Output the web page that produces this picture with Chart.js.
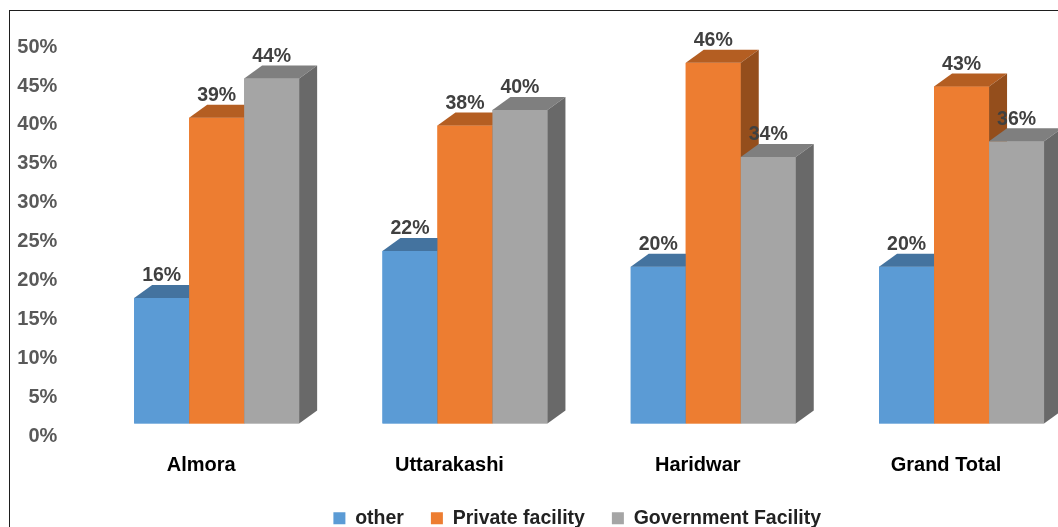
<!DOCTYPE html>
<html><head><meta charset="utf-8">
<script src="https://cdn.jsdelivr.net/npm/chart.js@4.4.1/dist/chart.umd.min.js"></script>
<style>
html,body{margin:0;padding:0;overflow:hidden;background:#fff;width:1058px;height:527px;}
#wrap{position:absolute;left:0;top:0;width:1139px;height:538px;}
#frame{position:absolute;left:9px;top:10px;width:1200px;height:600px;border:1px solid #1e1e1e;box-sizing:border-box;pointer-events:none;}
</style></head><body>
<div id="frame"></div>
<div id="wrap"><canvas id="c" width="1139" height="538"></canvas></div>
<script>
const categories = ['Almora', 'Uttarakashi', 'Haridwar', 'Grand Total'];
const seriesNames = ['other', 'Private facility', 'Government Facility'];
const otherValues = [16, 22, 20, 20];
const privateValues = [39, 38, 46, 43];
const governmentValues = [44, 40, 34, 36];
const yTickSuffix = '%';

const FONT = 'Liberation Sans, Arial, sans-serif';
const shades = [
  {front: '#5B9BD5', top: '#44739F', side: '#3A6791'},
  {front: '#ED7D31', top: '#B45E22', side: '#944E1C'},
  {front: '#A5A5A5', top: '#7F7F7F', side: '#696969'}
];

const bar3d = {
  id: 'bar3d',
  afterDatasetsDraw(chart) {
    const ctx = chart.ctx;
    const dx = 18, dy = 13;
    ctx.save();
    chart.data.datasets.forEach((ds, i) => {
      const meta = chart.getDatasetMeta(i);
      const s = shades[i];
      meta.data.forEach(el => {
        const {x, y, base, width} = el.getProps(['x', 'y', 'base', 'width'], true);
        const l = x - width / 2, r = x + width / 2;
        ctx.fillStyle = s.front;
        ctx.fillRect(l, y, width, base - y);
        ctx.fillStyle = s.top;
        ctx.beginPath();
        ctx.moveTo(l, y); ctx.lineTo(r, y); ctx.lineTo(r + dx, y - dy); ctx.lineTo(l + dx, y - dy);
        ctx.closePath(); ctx.fill();
        ctx.fillStyle = s.side;
        ctx.beginPath();
        ctx.moveTo(r, y); ctx.lineTo(r + dx, y - dy); ctx.lineTo(r + dx, base - dy); ctx.lineTo(r, base);
        ctx.closePath(); ctx.fill();
      });
    });
    ctx.font = 'bold 19.5px ' + FONT;
    ctx.fillStyle = '#404040';
    ctx.textAlign = 'center';
    ctx.textBaseline = 'alphabetic';
    chart.data.datasets.forEach((ds, i) => {
      const meta = chart.getDatasetMeta(i);
      meta.data.forEach((el, j) => {
        const {x, y} = el.getProps(['x', 'y'], true);
        ctx.fillText(ds.data[j] + '%', x, y - 16.5);
      });
    });
    ctx.restore();
  }
};

new Chart(document.getElementById('c'), {
  type: 'bar',
  data: {
    labels: categories,
    datasets: [
      {label: seriesNames[0], data: otherValues, backgroundColor: shades[0].front, yAxisID: 'yb'},
      {label: seriesNames[1], data: privateValues, backgroundColor: shades[1].front, yAxisID: 'yb'},
      {label: seriesNames[2], data: governmentValues, backgroundColor: shades[2].front, yAxisID: 'yb'}
    ]
  },
  options: {
    responsive: false,
    animation: false,
    layout: {padding: {left: 15.5, top: 45.5, right: 0, bottom: 0}},
    datasets: {bar: {categoryPercentage: 0.6645, barPercentage: 1}},
    plugins: {
      legend: {
        position: 'bottom',
        labels: {font: {family: FONT, size: 19.5, weight: 'bold'}, color: '#222', boxWidth: 12, boxHeight: 12, padding: 27}
      },
      tooltip: {enabled: false}
    },
    scales: {
      x: {
        grid: {display: false, drawTicks: false}, border: {display: false},
        ticks: {font: {family: FONT, size: 20, weight: 'bold'}, color: '#000', padding: 17, labelOffset: -15.5},
        afterFit: s => { s.height = 45.5; }
      },
      y: {
        position: 'left', min: 0, max: 50,
        grid: {display: false, drawTicks: false}, border: {display: false},
        ticks: {stepSize: 5, callback: v => v + yTickSuffix, font: {family: FONT, size: 20, weight: 'bold'}, color: '#595959', padding: 35.2},
        afterFit: s => { s.width = 77; }
      },
      yb: {
        position: 'right', min: -1.61, max: 48.0,
        grid: {display: false, drawTicks: false}, border: {display: false},
        ticks: {display: false},
        afterFit: s => { s.width = 53.3; }
      }
    }
  },
  plugins: [bar3d]
});
</script>
</body></html>
